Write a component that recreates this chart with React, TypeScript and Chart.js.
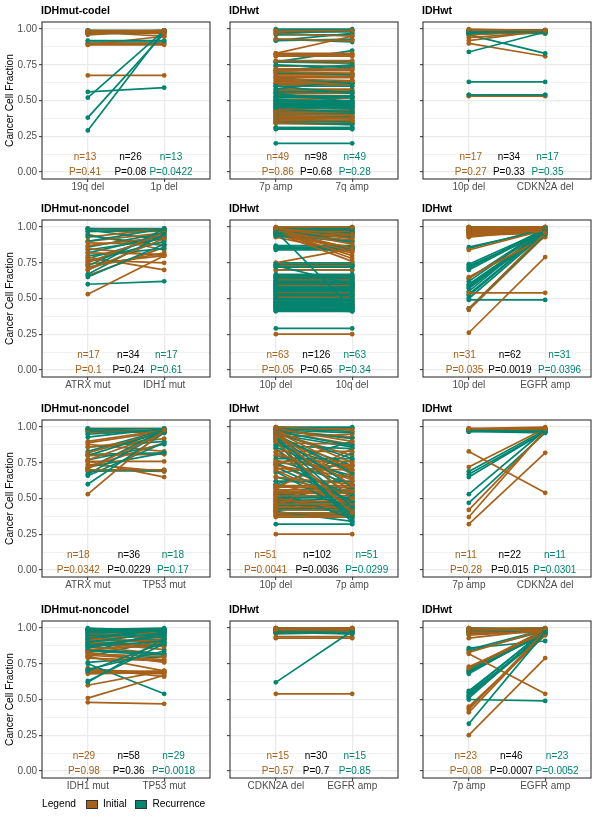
import React, { useEffect, useRef } from "react";
import { Chart, registerables } from "chart.js";

Chart.register(...registerables);

type Pair = [number, number];

const ORANGE = "#A6611A";
const GREEN = "#018571";
const FONT = "'Liberation Sans', Arial, Helvetica, sans-serif";

// ---------- tick labels ----------
const Y_TICKS = [0, 0.125, 0.25, 0.375, 0.5, 0.625, 0.75, 0.875, 1];
const Y_LABELS = ["0.00", "0.25", "0.50", "0.75", "1.00"];
const Y_TITLE = "Cancer Cell Fraction";

// ---------- panel 1 ----------
const p1Title = "IDHmut-codel";
const p1Categories = ["19q del", "1p del"];
const p1Stats = ["n=13", "P=0.41", "n=26", "P=0.08", "n=13", "P=0.0422"];
const p1Initial: Pair[] = [
  [0.99, 0.99], [0.98, 0.98], [0.98, 0.97], [0.97, 0.99], [0.97, 0.98], [0.9, 0.9], [0.89, 0.89],
  [0.89, 0.95], [0.98, 0.95], [0.676, 0.676], [0.99, 0.98], [0.96, 0.99], [0.98, 0.99],
];
const p1Recurrence: Pair[] = [
  [0.56, 0.59], [0.52, 0.99], [0.38, 0.97], [0.29, 0.99], [0.92, 0.92], [0.99, 0.99], [0.98, 0.99],
  [0.97, 0.98], [0.99, 0.98], [0.98, 0.99], [0.99, 0.99], [0.97, 0.97], [0.91, 0.91],
];

// ---------- panel 2 ----------
const p2Title = "IDHwt";
const p2Categories = ["7p amp", "7q amp"];
const p2Stats = ["n=49", "P=0.86", "n=98", "P=0.68", "n=49", "P=0.28"];
const p2Initial: Pair[] = [
  [0.99, 0.99], [0.97, 0.95], [0.93, 0.92], [0.83, 0.95], [0.82, 0.82], [0.82, 0.82], [0.81, 0.81],
  [0.83, 0.83], [0.78, 0.78], [0.72, 0.72], [0.71, 0.71], [0.7, 0.69], [0.67, 0.67], [0.66, 0.66],
  [0.65, 0.64], [0.64, 0.63], [0.63, 0.63], [0.62, 0.62], [0.6, 0.6], [0.58, 0.58], [0.57, 0.57],
  [0.56, 0.56], [0.55, 0.55], [0.54, 0.53], [0.52, 0.52], [0.5, 0.5], [0.49, 0.49], [0.48, 0.48],
  [0.47, 0.46], [0.45, 0.45], [0.44, 0.45], [0.43, 0.43], [0.42, 0.42], [0.41, 0.4], [0.4, 0.4],
  [0.39, 0.38], [0.38, 0.37], [0.37, 0.36], [0.36, 0.36], [0.35, 0.35], [0.34, 0.33], [0.43, 0.5],
  [0.5, 0.52], [0.68, 0.68], [0.74, 0.74], [0.77, 0.76], [0.61, 0.61], [0.46, 0.46], [0.53, 0.53],
];
const p2Recurrence: Pair[] = [
  [1.0, 1.0], [0.99, 0.99], [0.98, 0.98], [0.97, 0.99], [0.96, 0.96], [0.93, 0.91], [0.92, 0.97],
  [0.92, 0.93], [0.77, 0.85], [0.77, 0.77], [0.75, 0.73], [0.72, 0.72], [0.71, 0.75], [0.7, 0.68],
  [0.66, 0.62], [0.6, 0.55], [0.6, 0.6], [0.58, 0.64], [0.56, 0.56], [0.55, 0.49], [0.53, 0.53],
  [0.52, 0.52], [0.51, 0.47], [0.5, 0.5], [0.49, 0.49], [0.48, 0.48], [0.47, 0.47], [0.46, 0.46],
  [0.45, 0.45], [0.45, 0.44], [0.44, 0.42], [0.43, 0.43], [0.42, 0.42], [0.41, 0.41], [0.4, 0.41],
  [0.39, 0.39], [0.38, 0.38], [0.37, 0.38], [0.36, 0.35], [0.35, 0.33], [0.34, 0.34], [0.31, 0.31],
  [0.31, 0.31], [0.3, 0.3], [0.3, 0.3], [0.2, 0.2], [0.62, 0.62], [0.69, 0.69], [0.74, 0.74],
];

// ---------- panel 3 ----------
const p3Title = "IDHwt";
const p3Categories = ["10p del", "CDKN2A del"];
const p3Stats = ["n=17", "P=0.27", "n=34", "P=0.33", "n=17", "P=0.35"];
const p3Initial: Pair[] = [
  [1.0, 0.99], [0.99, 0.99], [0.98, 0.98], [0.97, 0.99], [0.96, 0.99], [0.94, 0.98], [0.92, 0.99],
  [0.9, 0.81], [0.99, 0.98], [0.98, 0.99], [0.99, 0.97], [0.97, 0.98], [0.98, 0.98], [0.54, 0.54],
  [0.53, 0.53], [0.995, 0.995], [0.985, 0.99],
];
const p3Recurrence: Pair[] = [
  [0.98, 0.98], [0.98, 0.99], [0.97, 0.99], [0.99, 0.99], [0.84, 0.98], [0.96, 0.83], [0.97, 0.97],
  [0.63, 0.63], [0.54, 0.54], [0.99, 0.98], [0.98, 0.98], [0.97, 0.98], [0.99, 0.99], [0.98, 0.97],
  [0.96, 0.99], [0.98, 0.99], [0.99, 0.99],
];

// ---------- panel 4 ----------
const p4Title = "IDHmut-noncodel";
const p4Categories = ["ATRX mut", "IDH1 mut"];
const p4Stats = ["n=17", "P=0.1", "n=34", "P=0.24", "n=17", "P=0.61"];
const p4Initial: Pair[] = [
  [0.53, 0.8], [0.7, 0.92], [0.72, 0.82], [0.75, 0.96], [0.77, 0.75], [0.79, 0.7], [0.82, 0.81],
  [0.85, 0.8], [0.87, 0.93], [0.89, 0.88], [0.9, 0.96], [0.93, 0.99], [0.95, 0.84], [0.97, 0.97],
  [0.99, 0.98], [0.74, 0.8], [0.66, 0.86],
];
const p4Recurrence: Pair[] = [
  [0.6, 0.62], [0.65, 0.88], [0.67, 0.95], [0.7, 0.99], [0.73, 0.97], [0.76, 0.9], [0.8, 0.85],
  [0.82, 0.94], [0.84, 0.92], [0.9, 0.99], [0.94, 0.87], [0.97, 0.98], [0.98, 0.91], [0.99, 0.99],
  [0.99, 0.97], [0.86, 0.96], [0.78, 0.93],
];

// ---------- panel 5 ----------
const p5Title = "IDHwt";
const p5Categories = ["10p del", "10q del"];
const p5Stats = ["n=63", "P=0.05", "n=126", "P=0.65", "n=63", "P=0.34"];
const p5Initial: Pair[] = [
  [1.0, 1.0], [0.99, 0.95], [0.99, 0.92], [0.98, 0.88], [0.98, 0.85], [0.97, 0.83], [0.97, 0.8],
  [0.96, 0.76], [0.96, 0.99], [0.95, 0.98], [0.99, 0.99], [0.98, 0.97], [0.97, 0.94], [0.95, 0.9],
  [0.94, 0.86], [0.93, 0.82], [0.75, 0.85], [0.74, 0.74], [0.73, 0.73], [0.72, 0.72], [0.7, 0.7],
  [0.66, 0.66], [0.65, 0.65], [0.64, 0.64], [0.63, 0.63], [0.62, 0.62], [0.61, 0.61], [0.6, 0.6],
  [0.59, 0.59], [0.58, 0.58], [0.57, 0.57], [0.56, 0.56], [0.55, 0.55], [0.54, 0.54], [0.53, 0.53],
  [0.52, 0.52], [0.51, 0.51], [0.5, 0.5], [0.48, 0.48], [0.47, 0.47], [0.46, 0.46], [0.45, 0.45],
  [0.44, 0.44], [0.43, 0.43], [0.42, 0.42], [0.25, 0.25], [0.99, 0.97], [0.98, 0.96], [0.97, 0.93],
  [0.96, 0.91], [0.99, 0.89], [0.98, 0.84], [0.97, 0.78], [0.65, 0.64], [0.62, 0.61], [0.6, 0.59],
  [0.58, 0.57], [0.55, 0.56], [0.53, 0.52], [0.5, 0.49], [0.47, 0.46], [0.45, 0.45], [0.44, 0.43],
];
const p5Recurrence: Pair[] = [
  [1.0, 1.0], [0.99, 0.99], [0.98, 0.98], [0.97, 0.43], [0.96, 0.96], [0.95, 0.93], [0.94, 0.9],
  [0.86, 0.86], [0.85, 0.85], [0.86, 0.85], [0.85, 0.86], [0.74, 0.74], [0.73, 0.6], [0.72, 0.72],
  [0.66, 0.66], [0.65, 0.65], [0.64, 0.64], [0.62, 0.62], [0.61, 0.61], [0.6, 0.6], [0.58, 0.58],
  [0.57, 0.57], [0.56, 0.56], [0.55, 0.55], [0.53, 0.53], [0.52, 0.52], [0.5, 0.5], [0.49, 0.49],
  [0.48, 0.48], [0.47, 0.47], [0.46, 0.46], [0.45, 0.45], [0.44, 0.44], [0.43, 0.43], [0.42, 0.42],
  [0.41, 0.41], [0.29, 0.29], [0.99, 0.98], [0.98, 0.99], [0.97, 0.97], [0.96, 0.94], [0.95, 0.95],
  [0.87, 0.87], [0.84, 0.84], [0.86, 0.84], [0.75, 0.75], [0.73, 0.73], [0.7, 0.7], [0.67, 0.67],
  [0.63, 0.63], [0.6, 0.59], [0.59, 0.59], [0.57, 0.58], [0.54, 0.54], [0.51, 0.51], [0.49, 0.49],
  [0.47, 0.46], [0.45, 0.44], [0.44, 0.43], [0.42, 0.41], [0.99, 1.0], [0.98, 0.97], [0.97, 0.96],
];

// ---------- panel 6 ----------
const p6Title = "IDHwt";
const p6Categories = ["10p del", "EGFR amp"];
const p6Stats = ["n=31", "P=0.035", "n=62", "P=0.0019", "n=31", "P=0.0396"];
const p6Initial: Pair[] = [
  [0.26, 0.79], [0.43, 0.96], [0.54, 0.54], [0.65, 0.93], [0.84, 0.98], [0.94, 0.99], [0.95, 0.99],
  [0.96, 1.0], [0.99, 0.99], [1.0, 1.0], [0.98, 0.97], [0.97, 0.99], [0.99, 0.98], [0.98, 1.0],
  [1.0, 0.99], [0.99, 1.0], [0.97, 0.98], [0.96, 0.97], [0.95, 0.96], [0.93, 0.98], [0.99, 0.99],
  [0.98, 0.98], [1.0, 0.98], [0.97, 0.97], [0.94, 0.96], [0.42, 0.94], [0.64, 0.97], [0.98, 0.99],
  [0.99, 0.97], [0.97, 1.0], [0.96, 0.98],
];
const p6Recurrence: Pair[] = [
  [0.49, 0.49], [0.43, 0.95], [0.5, 0.96], [0.53, 0.97], [0.55, 0.99], [0.57, 0.98], [0.59, 0.96],
  [0.6, 0.97], [0.62, 0.99], [0.7, 0.98], [0.71, 0.99], [0.72, 0.97], [0.73, 0.96], [0.85, 0.99],
  [0.86, 0.98], [0.99, 0.99], [0.98, 0.98], [0.99, 1.0], [1.0, 0.99], [0.97, 0.98], [0.98, 0.97],
  [0.99, 0.98], [0.98, 0.99], [0.97, 0.97], [0.99, 0.99], [1.0, 1.0], [0.96, 0.98], [0.58, 0.95],
  [0.64, 0.99], [0.74, 0.98], [0.52, 0.97],
];

// ---------- panel 7 ----------
const p7Title = "IDHmut-noncodel";
const p7Categories = ["ATRX mut", "TP53 mut"];
const p7Stats = ["n=18", "P=0.0342", "n=36", "P=0.0229", "n=18", "P=0.17"];
const p7Initial: Pair[] = [
  [0.53, 0.98], [0.7, 0.7], [0.71, 0.96], [0.72, 0.89], [0.76, 0.65], [0.76, 0.76], [0.77, 0.96],
  [0.8, 0.81], [0.82, 0.97], [0.86, 0.92], [0.88, 0.83], [0.89, 0.97], [0.9, 0.98], [0.96, 0.97],
  [0.97, 0.98], [0.98, 0.96], [0.99, 0.99], [0.74, 0.69],
];
const p7Recurrence: Pair[] = [
  [0.6, 0.96], [0.66, 0.89], [0.67, 0.97], [0.69, 0.7], [0.71, 0.98], [0.72, 0.82], [0.77, 0.88],
  [0.8, 0.97], [0.81, 0.82], [0.83, 0.98], [0.86, 0.9], [0.93, 0.99], [0.95, 0.98], [0.97, 0.97],
  [0.98, 0.96], [0.99, 0.99], [0.99, 0.97], [0.7, 0.69],
];

// ---------- panel 8 ----------
const p8Title = "IDHwt";
const p8Categories = ["10p del", "7p amp"];
const p8Stats = ["n=51", "P=0.0041", "n=102", "P=0.0036", "n=51", "P=0.0299"];
const p8Initial: Pair[] = [
  [1.0, 0.98], [0.99, 0.9], [0.98, 0.75], [0.97, 0.7], [0.96, 0.59], [0.95, 0.5], [0.93, 0.95],
  [0.9, 0.4], [0.83, 0.83], [0.82, 0.63], [0.76, 0.76], [0.75, 0.72], [0.73, 0.65], [0.71, 0.7],
  [0.7, 0.45], [0.65, 0.6], [0.59, 0.59], [0.58, 0.58], [0.57, 0.85], [0.56, 0.56], [0.55, 0.55],
  [0.54, 0.54], [0.52, 0.52], [0.5, 0.42], [0.48, 0.48], [0.46, 0.46], [0.45, 0.68], [0.44, 0.44],
  [0.42, 0.42], [0.4, 0.4], [0.38, 0.38], [0.37, 0.37], [0.25, 0.25], [0.99, 0.99], [0.98, 0.93],
  [0.97, 0.88], [0.96, 0.8], [0.94, 0.67], [0.91, 0.55], [0.89, 0.88], [0.85, 0.46], [0.8, 0.73],
  [0.74, 0.52], [0.68, 0.74], [0.62, 0.62], [0.6, 0.48], [0.53, 0.5], [0.49, 0.47], [0.43, 0.43],
  [0.41, 0.57], [0.39, 0.39],
];
const p8Recurrence: Pair[] = [
  [1.0, 1.0], [0.99, 0.97], [0.98, 0.92], [0.97, 0.87], [0.96, 0.78], [0.95, 0.68], [0.94, 0.58],
  [0.93, 0.5], [0.92, 0.44], [0.91, 0.35], [0.9, 0.33], [0.87, 0.85], [0.86, 0.64], [0.85, 0.38],
  [0.78, 0.78], [0.77, 0.6], [0.75, 0.52], [0.74, 0.9], [0.72, 0.48], [0.69, 0.4], [0.62, 0.62],
  [0.6, 0.77], [0.59, 0.55], [0.58, 0.82], [0.57, 0.45], [0.55, 0.36], [0.54, 0.54], [0.52, 0.57],
  [0.51, 0.51], [0.5, 0.49], [0.49, 0.47], [0.48, 0.39], [0.47, 0.47], [0.46, 0.44], [0.45, 0.45],
  [0.44, 0.41], [0.43, 0.43], [0.42, 0.42], [0.41, 0.34], [0.4, 0.4], [0.38, 0.38], [0.32, 0.32],
  [0.99, 0.99], [0.98, 0.96], [0.97, 0.93], [0.95, 0.86], [0.92, 0.73], [0.88, 0.7], [0.8, 0.66],
  [0.65, 0.53], [0.53, 0.37],
];

// ---------- panel 9 ----------
const p9Title = "IDHwt";
const p9Categories = ["7p amp", "CDKN2A del"];
const p9Stats = ["n=11", "P=0.28", "n=22", "P=0.015", "n=11", "P=0.0301"];
const p9Initial: Pair[] = [
  [0.99, 0.99], [0.99, 0.98], [0.98, 0.99], [0.83, 0.54], [0.72, 0.99], [0.42, 0.97], [0.37, 0.98],
  [0.32, 0.82], [0.98, 0.97], [0.99, 1.0], [0.97, 0.99],
];
const p9Recurrence: Pair[] = [
  [0.97, 0.97], [0.98, 0.98], [0.97, 0.98], [0.98, 0.97], [0.69, 0.98], [0.67, 0.97], [0.65, 0.97],
  [0.53, 0.98], [0.47, 0.96], [0.97, 0.96], [0.98, 0.99],
];

// ---------- panel 10 ----------
const p10Title = "IDHmut-noncodel";
const p10Categories = ["IDH1 mut", "TP53 mut"];
const p10Stats = ["n=29", "P=0.98", "n=58", "P=0.36", "n=29", "P=0.0018"];
const p10Initial: Pair[] = [
  [0.48, 0.47], [0.51, 0.67], [0.6, 0.7], [0.68, 0.69], [0.69, 0.7], [0.7, 0.68], [0.72, 0.66],
  [0.8, 0.7], [0.81, 0.78], [0.82, 0.8], [0.83, 0.76], [0.85, 0.88], [0.88, 0.89], [0.89, 0.92],
  [0.9, 0.85], [0.92, 0.95], [0.93, 0.9], [0.95, 0.97], [0.96, 0.93], [0.97, 0.98], [0.98, 0.96],
  [0.99, 0.99], [0.94, 0.94], [0.91, 0.87], [0.87, 0.82], [0.84, 0.92], [0.79, 0.77], [0.71, 0.69],
  [0.99, 0.97],
];
const p10Recurrence: Pair[] = [
  [0.62, 0.93], [0.63, 0.89], [0.7, 0.9], [0.75, 0.54], [0.71, 0.84], [0.86, 0.96], [0.87, 0.91],
  [0.88, 0.94], [0.9, 0.97], [0.93, 0.99], [0.95, 0.95], [0.97, 0.98], [0.98, 0.99], [0.99, 0.99],
  [1.0, 0.98], [0.84, 0.81], [0.89, 0.88], [0.91, 0.92], [0.96, 0.99], [0.99, 0.96], [0.98, 0.97],
  [0.92, 0.99], [0.94, 0.97], [0.85, 0.82], [0.83, 0.98], [0.97, 0.96], [0.8, 0.92], [0.76, 0.8],
  [0.99, 1.0],
];

// ---------- panel 11 ----------
const p11Title = "IDHwt";
const p11Categories = ["CDKN2A del", "EGFR amp"];
const p11Stats = ["n=15", "P=0.57", "n=30", "P=0.7", "n=15", "P=0.85"];
const p11Initial: Pair[] = [
  [1.0, 1.0], [0.99, 0.99], [0.99, 0.98], [0.98, 0.99], [0.98, 0.98], [0.97, 0.97], [0.97, 0.98],
  [0.99, 1.0], [1.0, 0.99], [0.94, 0.94], [0.93, 0.93], [0.54, 0.54], [0.98, 0.97], [0.99, 0.99],
  [1.0, 0.98],
];
const p11Recurrence: Pair[] = [
  [0.62, 0.98], [0.99, 0.99], [0.98, 0.98], [0.97, 0.97], [0.98, 0.96], [0.99, 0.97], [1.0, 0.99],
  [0.97, 0.98], [0.98, 0.99], [0.99, 0.98], [1.0, 1.0], [0.96, 0.97], [0.97, 0.96], [0.98, 0.97],
  [0.99, 1.0],
];

// ---------- panel 12 ----------
const p12Title = "IDHwt";
const p12Categories = ["7p amp", "EGFR amp"];
const p12Stats = ["n=23", "P=0.08", "n=46", "P=0.0007", "n=23", "P=0.0052"];
const p12Initial: Pair[] = [
  [0.25, 0.79], [0.41, 0.97], [0.43, 0.98], [0.44, 0.96], [0.72, 0.99], [0.73, 0.97], [0.82, 0.54],
  [0.83, 0.99], [0.93, 0.99], [0.95, 0.98], [0.99, 0.99], [1.0, 0.98], [0.98, 0.99], [0.97, 0.97],
  [0.99, 1.0], [0.96, 0.98], [0.98, 0.98], [0.99, 0.97], [1.0, 1.0], [0.97, 0.99], [0.45, 0.95],
  [0.7, 0.98], [0.99, 0.98],
];
const p12Recurrence: Pair[] = [
  [0.33, 0.97], [0.5, 0.49], [0.51, 0.98], [0.53, 0.97], [0.54, 0.96], [0.55, 0.99], [0.68, 0.98],
  [0.69, 0.97], [0.7, 0.96], [0.85, 0.99], [0.86, 0.91], [0.99, 0.99], [0.98, 0.98], [0.97, 0.97],
  [1.0, 0.99], [0.99, 1.0], [0.98, 0.97], [0.97, 0.98], [0.96, 0.99], [0.52, 0.96], [0.56, 0.98],
  [0.71, 0.99], [0.84, 0.98],
];

// ---------- legend ----------
const LEGEND_TITLE = "Legend";
const LEGEND_LABELS = ["Initial", "Recurrence"];

// ---------- layout (positions, not data) ----------
const COL_LEFT = [42, 230, 423];
const COL_W = 168;
const ROW_TOP = [22, 220, 420, 621];
const ROW_H = 157;
// x (in axis units) of the three annotation columns per panel
const LABEL_X: number[][] = [
  [0.963, 1.558, 2.089], [1.026, 1.526, 2.033], [1.025, 1.525, 2.03],
  [1.008, 1.531, 2.028], [1.026, 1.53, 2.033], [0.945, 1.538, 2.189],
  [0.875, 1.538, 2.114], [0.866, 1.541, 2.19], [0.963, 1.537, 2.127],
  [0.949, 1.535, 2.122], [1.026, 1.526, 2.033], [0.96, 1.556, 2.156],
];

const PANELS = [
  { title: p1Title, cats: p1Categories, stats: p1Stats, initial: p1Initial, recurrence: p1Recurrence },
  { title: p2Title, cats: p2Categories, stats: p2Stats, initial: p2Initial, recurrence: p2Recurrence },
  { title: p3Title, cats: p3Categories, stats: p3Stats, initial: p3Initial, recurrence: p3Recurrence },
  { title: p4Title, cats: p4Categories, stats: p4Stats, initial: p4Initial, recurrence: p4Recurrence },
  { title: p5Title, cats: p5Categories, stats: p5Stats, initial: p5Initial, recurrence: p5Recurrence },
  { title: p6Title, cats: p6Categories, stats: p6Stats, initial: p6Initial, recurrence: p6Recurrence },
  { title: p7Title, cats: p7Categories, stats: p7Stats, initial: p7Initial, recurrence: p7Recurrence },
  { title: p8Title, cats: p8Categories, stats: p8Stats, initial: p8Initial, recurrence: p8Recurrence },
  { title: p9Title, cats: p9Categories, stats: p9Stats, initial: p9Initial, recurrence: p9Recurrence },
  { title: p10Title, cats: p10Categories, stats: p10Stats, initial: p10Initial, recurrence: p10Recurrence },
  { title: p11Title, cats: p11Categories, stats: p11Stats, initial: p11Initial, recurrence: p11Recurrence },
  { title: p12Title, cats: p12Categories, stats: p12Stats, initial: p12Initial, recurrence: p12Recurrence },
];

function pairData(p: Pair) {
  return [
    { x: 1, y: p[0] },
    { x: 2, y: p[1] },
  ];
}

function Panel({ index }: { index: number }) {
  const ref = useRef<HTMLCanvasElement>(null);
  const col = index % 3;
  const row = Math.floor(index / 3);
  const cfg = PANELS[index];
  const padL = col === 0 ? COL_LEFT[0] : 20;
  const padT = 22;
  const padR = 6;
  const padB = 22;
  const W = padL + COL_W + padR;
  const H = padT + ROW_H + padB;
  const left = COL_LEFT[col] - padL;
  const top = ROW_TOP[row] - padT;

  useEffect(() => {
    if (!ref.current) return;
    const lineSets: any[] = [];
    const pointSets: any[] = [];
    const n = Math.max(cfg.initial.length, cfg.recurrence.length);
    for (let i = 0; i < n; i++) {
      const groups: [Pair | undefined, string][] = [
        [cfg.initial[i], ORANGE],
        [cfg.recurrence[i], GREEN],
      ];
      for (const [p, color] of groups) {
        if (!p) continue;
        lineSets.push({
          data: pairData(p),
          showLine: true,
          borderColor: color,
          backgroundColor: color,
          borderWidth: 1.7,
          pointRadius: 0,
          pointHoverRadius: 0,
          order: 1,
        });
        pointSets.push({
          data: pairData(p),
          showLine: false,
          borderColor: color,
          backgroundColor: color,
          pointBackgroundColor: color,
          pointBorderWidth: 0,
          pointRadius: 2.4,
          pointHoverRadius: 2.4,
          order: 0,
        });
      }
    }
    const isMajor = (i: number) => i % 2 === 0;
    const overlay = {
      id: "overlay" + index,
      afterDraw(chart: any) {
        const { ctx, chartArea: a, scales } = chart;
        ctx.save();
        ctx.strokeStyle = "#333333";
        ctx.lineWidth = 1.1;
        ctx.strokeRect(a.left, a.top, a.right - a.left, a.bottom - a.top);
        ctx.fillStyle = "#000000";
        ctx.font = `bold 10.6px ${FONT}`;
        ctx.textAlign = "left";
        ctx.textBaseline = "middle";
        ctx.fillText(cfg.title, a.left - 1, a.top - 11);
        ctx.font = `10px ${FONT}`;
        ctx.textAlign = "center";
        const colors = [ORANGE, "#000000", GREEN];
        for (let k = 0; k < 3; k++) {
          const x = scales.x.getPixelForValue(LABEL_X[index][k]);
          ctx.fillStyle = colors[k];
          ctx.fillText(cfg.stats[2 * k], x, scales.y.getPixelForValue(0.1));
          ctx.fillText(cfg.stats[2 * k + 1], x, scales.y.getPixelForValue(0));
        }
        ctx.restore();
      },
    };
    const chart = new Chart(ref.current, {
      type: "scatter",
      data: { datasets: [...pointSets, ...lineSets] },
      options: {
        responsive: false,
        animation: false,
        events: [],
        layout: { padding: { top: padT, right: padR, left: 0, bottom: 0 } },
        plugins: {
          legend: { display: false },
          tooltip: { enabled: false },
          title: { display: false },
        },
        scales: {
          x: {
            type: "linear",
            min: 0.4,
            max: 2.6,
            afterBuildTicks: (s: any) => {
              s.ticks = [{ value: 1 }, { value: 2 }];
            },
            afterFit: (s: any) => {
              s.height = padB;
            },
            ticks: {
              callback: (v: any) => cfg.cats[Math.round(Number(v)) - 1] ?? "",
              color: "#4D4D4D",
              font: { family: FONT, size: 10 },
              padding: -1,
              maxRotation: 0,
              autoSkip: false,
            },
            grid: {
              color: "#EBEBEB",
              lineWidth: 1.3,
              drawTicks: true,
              tickLength: 3,
              tickColor: "#333333",
              tickWidth: 1,
            },
            border: { display: false },
          },
          y: {
            type: "linear",
            min: -0.05,
            max: 1.05,
            afterBuildTicks: (s: any) => {
              s.ticks = Y_TICKS.map((v) => ({ value: v }));
            },
            afterFit: (s: any) => {
              s.width = padL;
            },
            ticks: {
              callback: (_v: any, i: number) => (col === 0 && isMajor(i) ? Y_LABELS[i / 2] : ""),
              color: "#4D4D4D",
              font: { family: FONT, size: 10 },
              padding: 2,
              autoSkip: false,
            },
            grid: {
              color: "#EBEBEB",
              lineWidth: (c: any) => (isMajor(c.index) ? 1.3 : 0.65),
              drawTicks: true,
              tickLength: 3,
              tickColor: (c: any) => (isMajor(c.index) ? "#333333" : "rgba(0,0,0,0)"),
              tickWidth: 1,
            },
            border: { display: false },
            title:
              col === 0
                ? {
                    display: true,
                    text: Y_TITLE,
                    color: "#000000",
                    font: { family: FONT, size: 10.2 },
                    padding: { top: 4, bottom: 0 },
                  }
                : { display: false },
          },
        },
      } as any,
      plugins: [overlay],
    });
    return () => chart.destroy();
  }, [index]);

  return (
    <canvas
      ref={ref}
      width={W}
      height={H}
      style={{ position: "absolute", left, top, width: W, height: H }}
    />
  );
}

function LegendBox() {
  const text: React.CSSProperties = {
    position: "absolute",
    fontFamily: FONT,
    fontSize: 10.2,
    color: "#000",
    lineHeight: "12px",
    top: 798,
    whiteSpace: "nowrap",
  };
  const key = (left: number, color: string): React.CSSProperties => ({
    position: "absolute",
    left,
    top: 799.5,
    width: 10,
    height: 7.5,
    background: color,
    border: "1px solid #333",
  });
  return (
    <>
      <div style={{ ...text, left: 42 }}>{LEGEND_TITLE}</div>
      <div style={key(86, ORANGE)} />
      <div style={{ ...text, left: 103 }}>{LEGEND_LABELS[0]}</div>
      <div style={key(135, GREEN)} />
      <div style={{ ...text, left: 152.5 }}>{LEGEND_LABELS[1]}</div>
    </>
  );
}

export default function App() {
  return (
    <div
      style={{
        position: "absolute",
        left: 0,
        top: 0,
        width: 600,
        height: 817,
        background: "#ffffff",
        overflow: "hidden",
      }}
    >
      {PANELS.map((_, i) => (
        <Panel key={i} index={i} />
      ))}
      <LegendBox />
    </div>
  );
}
